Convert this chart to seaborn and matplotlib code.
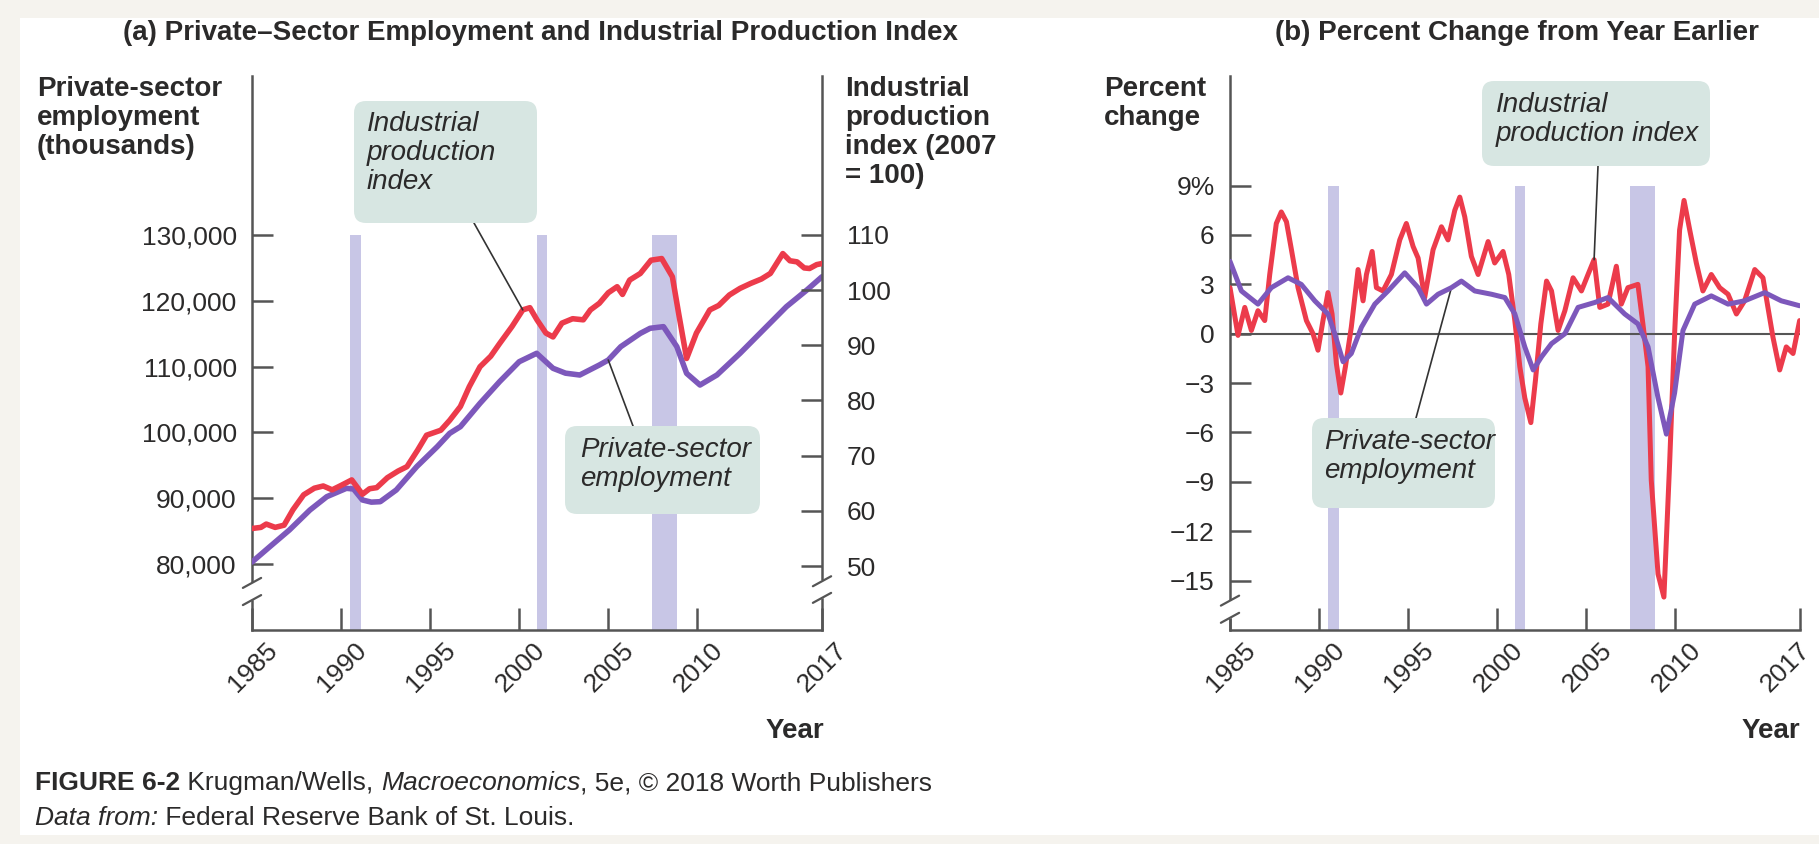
import matplotlib
matplotlib.use("Agg")
import matplotlib.pyplot as plt
import matplotlib.transforms as mtransforms
from matplotlib.patches import FancyBboxPatch, Rectangle
import seaborn as sns

W, H = 1819, 844

# ---- panel (a): levels ----
ip_year = [1985.0, 1985.5, 1985.8, 1986.3, 1986.8, 1987.3, 1987.9, 1988.5, 1989.0, 1989.5,
           1990.0, 1990.6, 1991.2, 1991.6, 1992.0, 1992.6, 1993.2, 1993.7, 1994.3, 1994.8,
           1995.6, 1996.1, 1996.7, 1997.2, 1997.8, 1998.4, 1998.9, 1999.6, 2000.2, 2000.6,
           2001.0, 2001.5, 2001.9, 2002.4, 2003.0, 2003.6, 2004.0, 2004.5, 2005.0, 2005.5,
           2005.8, 2006.2, 2006.8, 2007.4, 2008.0, 2008.6, 2008.95, 2009.4, 2009.95, 2010.7,
           2011.2, 2011.8, 2012.4, 2013.0, 2013.6, 2014.1, 2014.8, 2015.2, 2015.6, 2016.0,
           2016.3, 2016.7, 2017.0]
ip_level = [56.8, 57.0, 57.6, 57.0, 57.4, 60.2, 62.9, 64.1, 64.5, 63.8,
            64.6, 65.6, 63.0, 64.0, 64.2, 66.0, 67.2, 68.0, 71.0, 73.7,
            74.6, 76.4, 78.9, 82.5, 86.1, 88.0, 90.3, 93.4, 96.4, 96.8,
            94.6, 92.2, 91.5, 94.0, 94.8, 94.6, 96.4, 97.6, 99.5, 100.6,
            99.2, 101.8, 103.0, 105.4, 105.7, 102.4, 95.8, 87.6, 92.2, 96.4,
            97.2, 99.1, 100.3, 101.2, 102.0, 103.0, 106.6, 105.3, 105.1, 104.0,
            103.9, 104.6, 104.8]

emp_year = [1985.0, 1986.0, 1987.1, 1988.25, 1989.2, 1990.3, 1990.7, 1991.2, 1991.7, 1992.2,
            1993.1, 1994.25, 1995.4, 1996.1, 1996.7, 1997.8, 1998.9, 2000.0, 2000.98, 2001.9,
            2002.6, 2003.4, 2004.5, 2005.0, 2005.7, 2006.8, 2007.35, 2008.1, 2008.85, 2009.4,
            2010.15, 2011.1, 2012.4, 2013.7, 2015.0, 2016.15, 2017.0]
emp_level = [80300, 82630, 85170, 88200, 90230, 91500, 91400, 89730, 89400, 89470,
             91250, 94800, 97830, 99860, 100870, 104420, 107710, 110740, 112020, 109740,
             109000, 108720, 110240, 111000, 113020, 115050, 115820, 116070, 113030, 108970,
             107200, 108720, 112020, 115560, 119100, 121640, 123660]

# ---- panel (b): percent change from year earlier ----
ip_pct_year = [1985.0, 1985.45, 1985.83, 1986.2, 1986.57, 1986.95, 1987.23, 1987.6, 1987.88, 1988.17,
               1988.45, 1988.82, 1989.29, 1989.66, 1989.94, 1990.22, 1990.5, 1990.73, 1990.97, 1991.22,
               1991.48, 1991.81, 1992.19, 1992.47, 1992.66, 1992.98, 1993.22, 1993.59, 1994.06, 1994.53,
               1994.9, 1995.28, 1995.56, 1995.93, 1996.4, 1996.87, 1997.24, 1997.62, 1997.9, 1998.18,
               1998.55, 1998.93, 1999.49, 1999.86, 2000.33, 2000.65, 2000.99, 2001.27, 2001.55, 2001.89,
               2002.15, 2002.45, 2002.77, 2003.05, 2003.42, 2003.8, 2004.26, 2004.73, 2005.1, 2005.44,
               2005.76, 2006.22, 2006.69, 2006.97, 2007.34, 2007.9, 2008.18, 2008.47, 2008.65, 2009.03,
               2009.36, 2009.68, 2009.96, 2010.24, 2010.49, 2010.81, 2011.18, 2011.55, 2012.02, 2012.49,
               2012.96, 2013.43, 2013.89, 2014.46, 2014.92, 2015.2, 2015.48, 2015.86, 2016.23, 2016.61,
               2016.98]
ip_pct = [2.8, -0.1, 1.6, 0.2, 1.4, 0.8, 3.6, 6.7, 7.4, 6.8,
          5.1, 2.8, 0.8, 0.0, -1.0, 0.8, 2.5, 1.2, -1.8, -3.6,
          -2.0, 0.4, 3.9, 2.0, 3.6, 5.0, 2.8, 2.6, 3.6, 5.7,
          6.7, 5.3, 4.6, 2.2, 5.1, 6.5, 5.7, 7.5, 8.3, 7.1,
          4.7, 3.6, 5.6, 4.3, 5.0, 3.6, 0.8, -2.0, -3.9, -5.4,
          -2.8, 0.6, 3.2, 2.6, 0.2, 1.4, 3.4, 2.6, 3.6, 4.5,
          1.6, 1.8, 4.1, 1.8, 2.8, 3.0, 0.6, -2.0, -8.9, -14.6,
          -16.0, -7.9, 0.0, 6.3, 8.1, 6.3, 4.3, 2.6, 3.6, 2.8,
          2.4, 1.2, 2.0, 3.9, 3.4, 1.6, -0.2, -2.2, -0.8, -1.2,
          0.8]

emp_pct_year = [1985.0, 1985.64, 1986.57, 1987.32, 1988.26, 1989.0, 1989.76, 1990.5, 1990.88, 1991.35,
                1991.81, 1992.38, 1993.13, 1993.87, 1994.81, 1995.56, 1996.03, 1996.68, 1997.43, 1997.99,
                1998.74, 1999.68, 2000.43, 2000.99, 2001.55, 2002.02, 2002.49, 2003.05, 2003.8, 2004.54,
                2005.48, 2006.22, 2007.16, 2007.9, 2008.47, 2009.03, 2009.5, 2009.96, 2010.43, 2011.09,
                2012.02, 2012.96, 2013.89, 2015.02, 2015.95, 2016.98]
emp_pct = [4.4, 2.6, 1.8, 2.8, 3.4, 3.0, 2.0, 1.2, 0.0, -1.7,
           -1.2, 0.4, 1.8, 2.6, 3.7, 2.8, 1.8, 2.4, 2.8, 3.2,
           2.6, 2.4, 2.2, 1.2, -0.8, -2.2, -1.4, -0.6, 0.0, 1.6,
           1.9, 2.2, 1.2, 0.6, -0.8, -3.9, -6.1, -3.6, 0.2, 1.8,
           2.3, 1.8, 2.0, 2.5, 2.0, 1.7]

recessions = [(1990.5, 1991.1), (2001.0, 2001.55), (2007.45, 2008.85)]
year_ticks = [1985, 1990, 1995, 2000, 2005, 2010, 2017]
emp_ticks = [80000, 90000, 100000, 110000, 120000, 130000]
ip_ticks = [50, 60, 70, 80, 90, 100, 110]
pct_ticks = [-15, -12, -9, -6, -3, 0, 3, 6, 9]

RED = "#ec3b4b"
PURPLE = "#7d58bb"
BAR = "#c8c6e6"
BOX = "#d7e6e2"
AX = "#555555"
TXT = "#2b2a2a"

sns.set_style("white")
plt.rcParams["font.family"] = ["Liberation Sans", "DejaVu Sans"]

fig = plt.figure(figsize=(W / 100, H / 100), dpi=100)
fig.patch.set_facecolor("#f5f3ee")
fig.add_artist(Rectangle((20 / W, 1 - 835 / H), (W - 20) / W, (835 - 18) / H,
                         transform=fig.transFigure, fc="white", ec="none", zorder=-10))


def fy(y):
    return 1 - y / H


def style_axis(ax, sides):
    for s in ["left", "right", "top", "bottom"]:
        ax.spines[s].set_visible(s in sides)
        ax.spines[s].set_color(AX)
        ax.spines[s].set_linewidth(1.8)


def axis_break(ax, xpos, ys):
    ax.plot([xpos, xpos], [min(ys) + 0.004, max(ys) - 0.004], transform=ax.transAxes,
            color="white", lw=4, clip_on=False, zorder=6)
    for y in ys:
        ax.plot([xpos - 0.016, xpos + 0.016], [y - 0.009, y + 0.009], transform=ax.transAxes,
                color=AX, lw=1.6, clip_on=False, zorder=7)


def year_axis(ax, last_shift):
    ax.set_xlim(1985, 2017)
    ax.set_xticks(year_ticks)
    ax.set_xticklabels([str(y) for y in year_ticks], rotation=45, ha="right", va="top",
                       rotation_mode="anchor")
    ax.tick_params(axis="x", bottom=True, direction="in", length=16, width=1.8, color=AX,
                   labelsize=19, labelcolor=TXT, pad=6)
    labels = ax.get_xticklabels()
    for k, lab in enumerate(labels):
        dx = last_shift if k == len(labels) - 1 else 0.13
        lab.set_transform(lab.get_transform()
                          + mtransforms.ScaledTranslation(dx, 0, fig.dpi_scale_trans))


# ---------------- panel (a) ----------------
ax_a = fig.add_axes([252 / W, 1 - 630 / H, 570 / W, 554 / H])
ax_a.set_facecolor("none")
ax_a.set_ylim(69970, 154160)
for s, e in recessions:
    ax_a.fill_between([s, e], 69970, 130000, color=BAR, lw=0, zorder=1)
sns.lineplot(x=emp_year, y=emp_level, ax=ax_a, color=PURPLE, linewidth=4.0, zorder=3)
ax_a.set_yticks(emp_ticks)
ax_a.set_yticklabels([f"{v:,}" for v in emp_ticks])
ax_a.tick_params(axis="y", left=True, direction="in", length=15, width=1.8, color=AX,
                 labelsize=19, labelcolor=TXT, pad=11)
year_axis(ax_a, 0.13)
style_axis(ax_a, ["left", "bottom"])
axis_break(ax_a, 0, [0.054, 0.085])

ax_r = ax_a.twinx()
ax_r.set_ylim(38.41, 138.77)
sns.lineplot(x=ip_year, y=ip_level, ax=ax_r, color=RED, linewidth=4.0, zorder=3)
ax_r.set_yticks(ip_ticks)
ax_r.tick_params(axis="y", right=True, direction="in", length=15, width=1.8, color=AX,
                 labelsize=19, labelcolor=TXT, pad=18)
style_axis(ax_r, ["right"])
axis_break(ax_r, 1, [0.058, 0.088])
for a in (ax_a, ax_r):
    a.set_xlabel("")
    a.set_ylabel("")

# ---------------- panel (b) ----------------
ax_b = fig.add_axes([1230 / W, 1 - 630 / H, 570 / W, 554 / H])
ax_b.set_facecolor("none")
ax_b.set_ylim(-18.0, 15.66)
for s, e in recessions:
    ax_b.fill_between([s, e], -18.0, 9, color=BAR, lw=0, zorder=1)
ax_b.axhline(0, color=AX, lw=1.5, zorder=2)
sns.lineplot(x=ip_pct_year, y=ip_pct, ax=ax_b, color=RED, linewidth=3.6, zorder=3)
sns.lineplot(x=emp_pct_year, y=emp_pct, ax=ax_b, color=PURPLE, linewidth=3.6, zorder=4)
ax_b.set_yticks(pct_ticks)
ax_b.set_yticklabels([f"{v}%" if v == 9 else str(v).replace("-", "\u2212") for v in pct_ticks])
ax_b.tick_params(axis="y", left=True, direction="in", length=15, width=1.8, color=AX,
                 labelsize=19, labelcolor=TXT, pad=11)
year_axis(ax_b, -0.02)
style_axis(ax_b, ["left", "bottom"])
axis_break(ax_b, 0, [0.022, 0.053])
ax_b.set_xlabel("")
ax_b.set_ylabel("")

# ---------------- titles and labels ----------------
fig.text(540 / W, fy(33), "(a) Private\u2013Sector Employment and Industrial Production Index",
         ha="center", va="center", fontsize=20, fontweight="bold", color=TXT)
fig.text(1517 / W, fy(33), "(b) Percent Change from Year Earlier",
         ha="center", va="center", fontsize=20, fontweight="bold", color=TXT)
fig.text(37 / W, fy(76), "Private-sector\nemployment\n(thousands)", ha="left", va="top",
         fontsize=20, fontweight="bold", color=TXT, linespacing=1.15)
fig.text(845 / W, fy(76), "Industrial\nproduction\nindex (2007\n= 100)", ha="left", va="top",
         fontsize=20, fontweight="bold", color=TXT, linespacing=1.15)
fig.text(1104 / W, fy(76), "Percent\nchange", ha="left", va="top",
         fontsize=20, fontweight="bold", color=TXT, linespacing=1.15)
fig.text(824 / W, fy(731), "Year", ha="right", va="center", fontsize=20,
         fontweight="bold", color=TXT)
fig.text(1800 / W, fy(731), "Year", ha="right", va="center", fontsize=20,
         fontweight="bold", color=TXT)


# ---------------- callout boxes ----------------
def callout(x0, y0, x1, y1, text, tx, ty):
    fig.add_artist(FancyBboxPatch((x0 / 100, (H - y1) / 100), (x1 - x0) / 100, (y1 - y0) / 100,
                                  boxstyle="round,pad=0,rounding_size=0.12",
                                  transform=fig.dpi_scale_trans, fc=BOX, ec="none", zorder=4))
    fig.text(tx / W, fy(ty), text, ha="left", va="top", fontsize=20, fontstyle="italic",
             color=TXT, linespacing=1.15, zorder=5)


callout(354, 101, 537, 223, "Industrial\nproduction\nindex", 367, 111)
callout(565, 426, 760, 514, "Private-sector\nemployment", 580, 437)
callout(1482, 81, 1710, 166, "Industrial\nproduction index", 1496, 92)
callout(1312, 418, 1495, 508, "Private-sector\nemployment", 1324, 429)

line_kw = dict(arrowstyle="-", color="#333333", lw=1.2, shrinkA=0, shrinkB=0)
i = ip_year.index(2000.2)
ax_r.annotate("", xy=(ip_year[i], ip_level[i]), xytext=(474, H - 223),
              textcoords="figure pixels", arrowprops=line_kw)
i = emp_year.index(2005.0)
ax_a.annotate("", xy=(emp_year[i], emp_level[i]), xytext=(633, H - 426),
              textcoords="figure pixels", arrowprops=line_kw)
i = ip_pct_year.index(2005.44)
ax_b.annotate("", xy=(ip_pct_year[i], ip_pct[i]), xytext=(1598, H - 166),
              textcoords="figure pixels", arrowprops=line_kw)
i = emp_pct_year.index(1997.43)
ax_b.annotate("", xy=(emp_pct_year[i], emp_pct[i]), xytext=(1416, H - 418),
              textcoords="figure pixels", arrowprops=line_kw)

# ---------------- caption ----------------
cap = fig.text(35 / W, fy(783), "FIGURE 6-2", ha="left", va="center", fontsize=19,
               fontweight="bold", color=TXT)
parts = [(" Krugman/Wells, ", "normal"), ("Macroeconomics", "italic"),
         (", 5e, \u00a9 2018 Worth Publishers", "normal")]
prev = cap
for s, st in parts:
    prev = ax_a.annotate(s, xy=(1, 0), xycoords=prev, ha="left", va="bottom",
                         fontsize=19, fontstyle=st, color=TXT, annotation_clip=False)
cap2 = fig.text(35 / W, fy(818), "Data from:", ha="left", va="center", fontsize=19,
                fontstyle="italic", color=TXT)
ax_a.annotate(" Federal Reserve Bank of St. Louis.", xy=(1, 0), xycoords=cap2, ha="left",
              va="bottom", fontsize=19, color=TXT, annotation_clip=False)

fig.savefig("out.png", dpi=100, facecolor=fig.get_facecolor())
